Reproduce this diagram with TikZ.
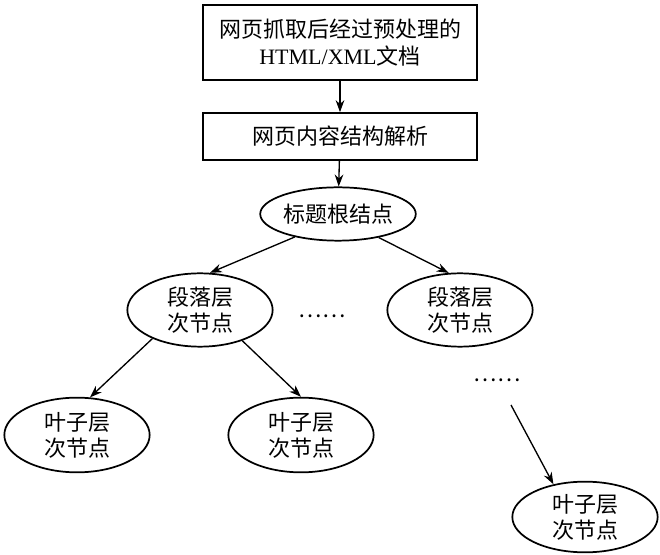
\documentclass[tikz,border=0pt]{standalone}
\usepackage{fontspec}
\setmainfont{Liberation Serif}
\newfontfamily\cjk{Noto Sans CJK SC}
\usetikzlibrary{arrows.meta,shapes.geometric}

\begin{document}
\begin{tikzpicture}[x=0.75pt,y=-0.75pt]
	\tikzstyle{mybox}=[draw=black,line width=1.5pt,align=center,minimum width=205pt,inner sep=0pt]
	\tikzstyle{mybox}+=[font=\fontsize{16.5}{20}\selectfont\cjk]
	\tikzstyle{myell}=[ellipse,draw=black,line width=1.3pt,align=center,inner sep=0pt,minimum width=109pt]
	\tikzstyle{myell}+=[font=\fontsize{16.5}{19.5}\selectfont\cjk]
	\tikzstyle{mydots}=[inner sep=0pt,font=\fontsize{16.5}{19.5}\selectfont\cjk]

	\tikzstyle{myarrow}=[->, >={Stealth[length=9pt,width=6.5pt]}, line width=1pt]

	\useasboundingbox (0,0) rectangle (660,555);

	\node[mybox, minimum height=56pt] (doc) at (340,42.5) {网页抓取后经过预处理的\\{\rmfamily HTML/XML}文档};
	\node[mybox, minimum height=35pt] (parse) at (340,136.5) {网页内容结构解析};

	\node[myell, minimum height=40pt] (root) at (338,214) {标题根结点};

	\node[myell, minimum height=55pt] (para1) at (200,310) {段落层\\次节点};
	\node[myell, minimum height=55pt] (para2) at (460,310) {段落层\\次节点};
	\node[mydots] (dots1) at (322,316) {……};

	\node[myell, minimum height=56pt] (leaf1) at (77,435) {叶子层\\次节点};
	\node[myell, minimum height=56pt] (leaf2) at (301,435) {叶子层\\次节点};
	\node[mydots] (dots2) at (497,380) {……};
	\node[myell, minimum height=53pt] (leaf3) at (585,517) {叶子层\\次节点};
	% free end of the last arrow, just below the dots
	\coordinate (tail) at (511,405);

	\draw[myarrow] (doc) -- (parse);
	\draw[myarrow] (parse) -- (root);

	\draw[myarrow] (root.208) -- (para1.75);
	\draw[myarrow] (root.-30) -- (para2.107);

	\draw[myarrow] (para1.211) -- (leaf1.71);
	\draw[myarrow] (para1.-36) -- (leaf2.90);

	\draw[myarrow] (tail) -- (leaf3.134);
\end{tikzpicture}
\end{document}
